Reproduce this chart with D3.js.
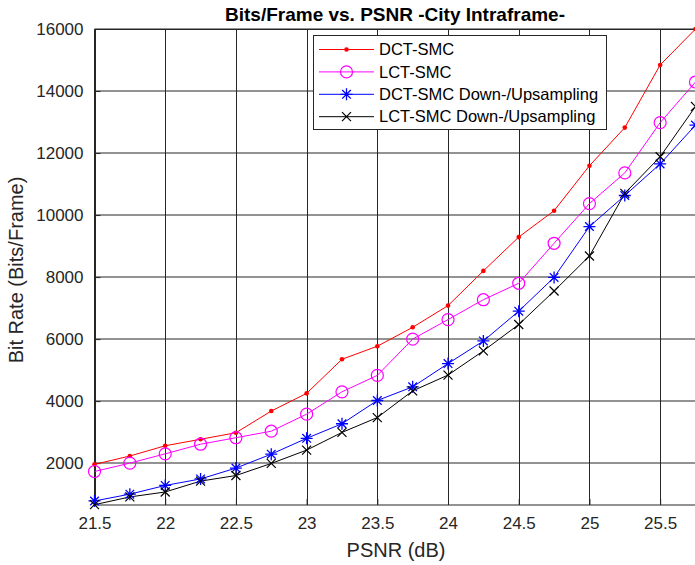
<!DOCTYPE html>
<html>
<head>
<meta charset="utf-8">
<script src="https://cdn.jsdelivr.net/npm/d3@7/dist/d3.min.js"></script>
<style>
  body { margin: 0; background: #fff; }
  svg { display: block; font-family: "Liberation Sans", Arial, sans-serif; }
</style>
</head>
<body>
<div id="chart"></div>
<script>
// PSNR steps on the x axis
const psnr = [21.5, 21.75, 22, 22.25, 22.5, 22.75, 23, 23.25, 23.5, 23.75,
              24, 24.25, 24.5, 24.75, 25, 25.25, 25.5, 25.75];

// bits per frame
const dctSmc = [1960, 2230, 2560, 2770, 2980, 3680, 4250, 5350, 5770, 6380,
                7080, 8200, 9290, 10140, 11590, 12820, 14840, 16000];
const lctSmc = [1730, 2000, 2300, 2610, 2820, 3030, 3580, 4300, 4830, 6000,
                6630, 7270, 7800, 9090, 10370, 11360, 12980, 14290];
const dctSmcDown = [780, 1000, 1280, 1490, 1840, 2290, 2800, 3270, 4020, 4460,
                    5210, 5940, 6900, 7990, 9630, 10630, 11650, 12900];
const lctSmcDown = [660, 910, 1070, 1420, 1600, 1990, 2420, 2990, 3470, 4330,
                    4840, 5620, 6470, 7550, 8680, 10700, 11880, 13500];

const xTicks = [21.5, 22, 22.5, 23, 23.5, 24, 24.5, 25, 25.5];
const yTicks = [2000, 4000, 6000, 8000, 10000, 12000, 14000, 16000];

const series = [
  {name: "DCT-SMC", values: dctSmc, color: "#ff0000", marker: "dot"},
  {name: "LCT-SMC", values: lctSmc, color: "#ff00ff", marker: "circle"},
  {name: "DCT-SMC Down-/Upsampling", values: dctSmcDown, color: "#0000ff", marker: "star"},
  {name: "LCT-SMC Down-/Upsampling", values: lctSmcDown, color: "#000000", marker: "cross"}
];

const W = 695, H = 565;
const plot = {left: 94.5, right: 695.5, top: 29, bottom: 505};

const x = d3.scaleLinear().domain([21.5, 25.75]).range([plot.left, plot.right]);
const y = d3.scaleLinear().domain([650, 16000]).range([plot.bottom, plot.top]);

const svg = d3.select("#chart").append("svg")
    .attr("width", W)
    .attr("height", H);

svg.append("defs").append("clipPath")
    .attr("id", "clip")
    .append("rect")
    .attr("x", plot.left).attr("y", plot.top)
    .attr("width", plot.right - plot.left).attr("height", plot.bottom - plot.top);

// grid
const grid = svg.append("g");
grid.selectAll(".vg").data(xTicks).enter().append("line")
    .attr("x1", d => Math.round(x(d)) + 0.5).attr("x2", d => Math.round(x(d)) + 0.5)
    .attr("y1", plot.top).attr("y2", plot.bottom)
    .attr("stroke", "#262626").attr("stroke-width", 1);
grid.selectAll(".hg").data(yTicks).enter().append("line")
    .attr("x1", plot.left).attr("x2", plot.right)
    .attr("y1", d => Math.round(y(d))).attr("y2", d => Math.round(y(d)))
    .attr("stroke", "#262626").attr("stroke-width", 1);

// axes (MATLAB-style, ticks pointing inward)
const xAxis = svg.append("g")
    .attr("transform", `translate(0,${plot.bottom})`)
    .call(d3.axisBottom(x).tickValues(xTicks).tickSize(-6).tickPadding(12)
        .tickFormat(d3.format("")));
const yAxis = svg.append("g")
    .attr("transform", `translate(${plot.left},0)`)
    .call(d3.axisLeft(y).tickValues(yTicks).tickSize(-6).tickPadding(11)
        .tickFormat(d3.format("d")));
[xAxis, yAxis].forEach(a => {
  a.select(".domain").remove();
  a.selectAll(".tick line").attr("stroke", "#262626");
  a.selectAll("text").attr("fill", "#262626")
      .style("font-size", "17px").style("font-family", "'Liberation Sans', Arial, sans-serif");
});
// box lines
svg.append("line").attr("x1", plot.left).attr("x2", plot.right)
    .attr("y1", plot.bottom).attr("y2", plot.bottom).attr("stroke", "#262626");
svg.append("line").attr("x1", plot.left).attr("x2", plot.right)
    .attr("y1", plot.top + 0.5).attr("y2", plot.top + 0.5).attr("stroke", "#262626");
svg.append("line").attr("x1", plot.left).attr("x2", plot.left)
    .attr("y1", plot.top).attr("y2", plot.bottom).attr("stroke", "#262626");

// marker drawing
function drawMarker(g, type, color) {
  if (type === "dot") {
    g.append("circle").attr("r", 2.3).attr("fill", color);
  } else if (type === "circle") {
    g.append("circle").attr("r", 6).attr("fill", "none")
        .attr("stroke", color).attr("stroke-width", 1.2);
  } else if (type === "star") {
    const s = 6, d = 4.3;
    g.append("path")
        .attr("d", `M${-s},0L${s},0M0,${-s}L0,${s}M${-d},${-d}L${d},${d}M${-d},${d}L${d},${-d}`)
        .attr("stroke", color).attr("stroke-width", 1.3).attr("fill", "none");
  } else if (type === "cross") {
    const d = 4.5;
    g.append("path")
        .attr("d", `M${-d},${-d}L${d},${d}M${-d},${d}L${d},${-d}`)
        .attr("stroke", color).attr("stroke-width", 1.2).attr("fill", "none");
  }
}

const line = d3.line().x((d, i) => x(psnr[i])).y(d => y(d));

const lines = svg.append("g").attr("clip-path", "url(#clip)");
series.forEach(s => {
  lines.append("path")
      .datum(s.values)
      .attr("d", line)
      .attr("fill", "none")
      .attr("stroke", s.color)
      .attr("stroke-width", 1);
});
const marks = svg.append("g");
series.forEach(s => {
  s.values.forEach((v, i) => {
    const g = marks.append("g").attr("transform", `translate(${x(psnr[i])},${y(v)})`);
    drawMarker(g, s.marker, s.color);
  });
});

// legend
const leg = svg.append("g").attr("transform", "translate(313,35)");
leg.append("rect").attr("x", 0.5).attr("y", 0.5).attr("width", 293).attr("height", 94)
    .attr("fill", "#fff").attr("stroke", "#262626").attr("stroke-width", 1);
series.forEach((s, i) => {
  const row = leg.append("g").attr("transform", `translate(0,${14.5 + i * 22.4})`);
  row.append("line").attr("x1", 6).attr("x2", 61).attr("y1", 0).attr("y2", 0)
      .attr("stroke", s.color).attr("stroke-width", 1);
  drawMarker(row.append("g").attr("transform", "translate(33.5,0)"), s.marker, s.color);
  row.append("text").attr("x", 66).attr("y", 0).attr("dy", "0.35em")
      .style("font-size", "16.5px").attr("fill", "#000").text(s.name);
});

// title and axis labels
svg.append("text").attr("x", 395).attr("y", 21).attr("text-anchor", "middle")
    .style("font-size", "19px").style("font-weight", "bold").attr("fill", "#000")
    .text("Bits/Frame vs. PSNR -City Intraframe-");
svg.append("text").attr("x", 396).attr("y", 557).attr("text-anchor", "middle")
    .style("font-size", "20px").attr("fill", "#262626").text("PSNR (dB)");
svg.append("text").attr("transform", `translate(23,270) rotate(-90)`)
    .attr("text-anchor", "middle")
    .style("font-size", "20px").attr("fill", "#262626").text("Bit Rate (Bits/Frame)");
</script>
</body>
</html>
